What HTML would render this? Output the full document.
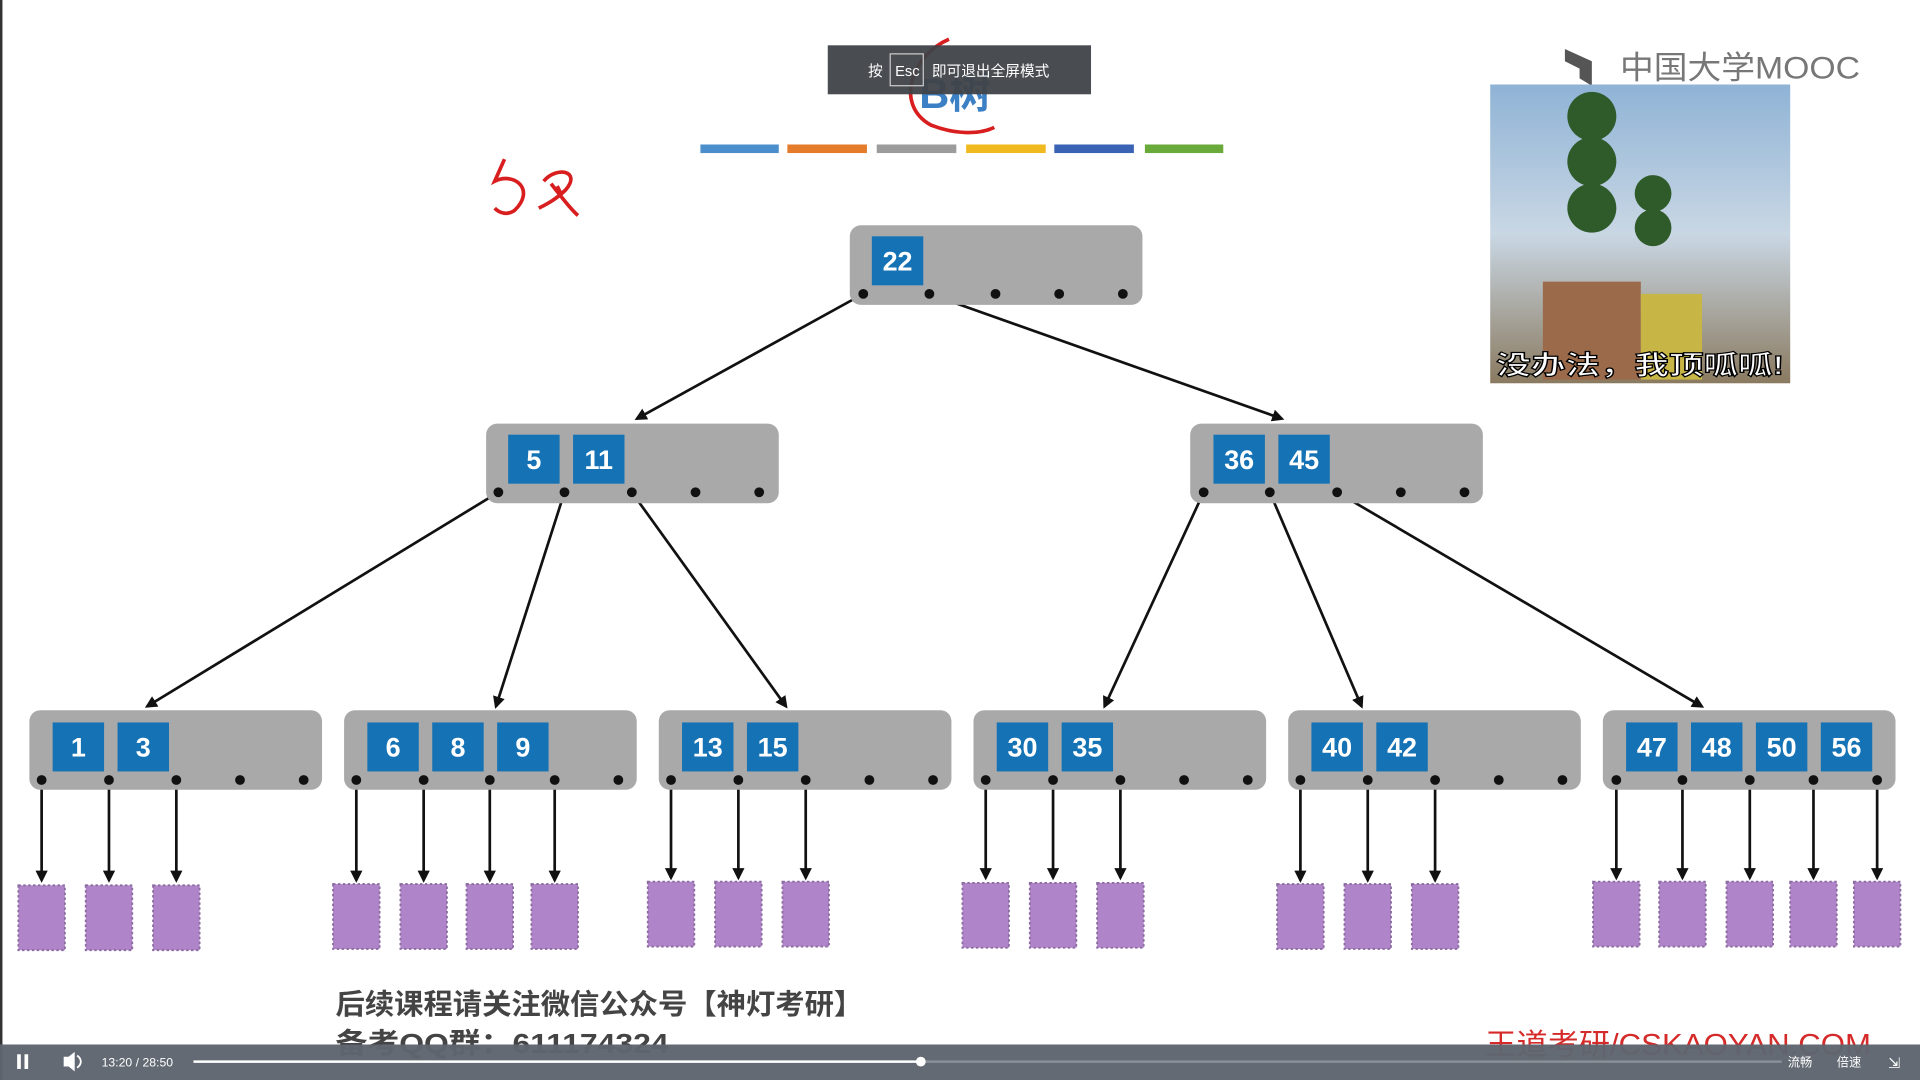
<!DOCTYPE html>
<html><head><meta charset="utf-8"><style>
html,body{margin:0;padding:0;background:#fff;width:1920px;height:1080px;overflow:hidden}
svg{display:block}
text{font-family:"Liberation Sans","Noto Sans CJK SC",sans-serif}
</style></head><body>
<svg width="1920" height="1080" viewBox="0 0 1568 882" xmlns="http://www.w3.org/2000/svg">
<defs>
<marker id="ah" markerWidth="10" markerHeight="10" refX="8" refY="5" orient="auto" markerUnits="userSpaceOnUse">
<path d="M0,0 L10,5 L0,10 z" fill="#111"/></marker>
<linearGradient id="sky" x1="0" y1="0" x2="0" y2="1">
<stop offset="0" stop-color="#8fb3d6"/><stop offset="0.5" stop-color="#c9d7e4"/><stop offset="1" stop-color="#8a7a60"/></linearGradient>
</defs>
<rect x="0" y="0" width="2" height="882" fill="#333"/>
<text x="780" y="88" font-size="34" fill="#3b7fc4" text-anchor="middle" font-weight="bold">B树</text>
<path d="M775,32 C745,45 730,85 760,102 C780,110 800,110 812,104" stroke="#d81e1e" stroke-width="3" fill="none"/>
<rect x="676" y="37" width="215" height="40" fill="#3f4348" opacity="0.95"/>
<text x="709" y="62" font-size="12" fill="#fff">按</text>
<rect x="727" y="44" width="27" height="26" fill="none" stroke="#ccc" stroke-width="1"/>
<text x="731" y="62" font-size="12" fill="#fff">Esc</text>
<text x="761" y="62" font-size="12" fill="#fff">即可退出全屏模式</text>
<rect x="572" y="118" width="64" height="7" fill="#4a8fcb"/>
<rect x="643" y="118" width="65" height="7" fill="#e47c2c"/>
<rect x="716" y="118" width="65" height="7" fill="#9c9c9c"/>
<rect x="789" y="118" width="65" height="7" fill="#f0b91f"/>
<rect x="861" y="118" width="65" height="7" fill="#3a63b5"/>
<rect x="935" y="118" width="64" height="7" fill="#6aaa3a"/>
<path d="M412,130 L404,148 C420,140 438,155 420,172 C414,176 408,174 404,170" stroke="#d81e1e" stroke-width="3" fill="none"/>
<path d="M444,148 C455,135 475,140 462,155 C455,162 448,166 440,170 M450,150 C458,160 465,170 472,176 M455,152 L458,158" stroke="#d81e1e" stroke-width="3" fill="none"/>
<path d="M1278,40 L1300,50 L1300,70 L1290,64 L1290,56 L1278,50 z" fill="#555"/>
<text x="1323" y="64" font-size="26" fill="#777" textLength="196" lengthAdjust="spacingAndGlyphs">中国大学MOOC</text>
<rect x="1217" y="69" width="245" height="244" fill="url(#sky)"/>
<ellipse cx="1300" cy="95" rx="20" ry="20" fill="#2f5b2a"/>
<ellipse cx="1300" cy="132" rx="20" ry="20" fill="#2f5b2a"/>
<ellipse cx="1300" cy="170" rx="20" ry="20" fill="#2f5b2a"/>
<ellipse cx="1350" cy="158" rx="15" ry="15" fill="#2f5b2a"/>
<ellipse cx="1350" cy="186" rx="15" ry="15" fill="#2f5b2a"/>
<rect x="1260" y="230" width="80" height="80" fill="#9b6a4a"/>
<rect x="1340" y="240" width="50" height="70" fill="#c7b545"/>
<text x="1222" y="306" font-size="22" font-weight="bold" fill="#fff" stroke="#000" stroke-width="1" textLength="235" lengthAdjust="spacingAndGlyphs">没办法，我顶呱呱!</text>
<g stroke="#111" stroke-width="2.2" marker-end="url(#ah)">
<line x1="705" y1="240" x2="520" y2="342"/>
<line x1="759" y1="240" x2="1047" y2="342"/>
<line x1="407" y1="402" x2="120" y2="577"/>
<line x1="461" y1="402" x2="405" y2="577"/>
<line x1="516" y1="402" x2="642" y2="577"/>
<line x1="983" y1="402" x2="902" y2="577"/>
<line x1="1037" y1="402" x2="1112" y2="577"/>
<line x1="1092" y1="402" x2="1390" y2="577"/>
<line x1="34" y1="637" x2="34" y2="719"/><line x1="89" y1="637" x2="89" y2="719"/><line x1="144" y1="637" x2="144" y2="719"/>
<line x1="291" y1="637" x2="291" y2="719"/><line x1="346" y1="637" x2="346" y2="719"/><line x1="400" y1="637" x2="400" y2="719"/><line x1="453" y1="637" x2="453" y2="719"/>
<line x1="548" y1="637" x2="548" y2="717"/><line x1="603" y1="637" x2="603" y2="717"/><line x1="658" y1="637" x2="658" y2="717"/>
<line x1="805" y1="637" x2="805" y2="717"/><line x1="860" y1="637" x2="860" y2="717"/><line x1="915" y1="637" x2="915" y2="717"/>
<line x1="1062" y1="637" x2="1062" y2="719"/><line x1="1117" y1="637" x2="1117" y2="719"/><line x1="1172" y1="637" x2="1172" y2="719"/>
<line x1="1320" y1="637" x2="1320" y2="717"/><line x1="1374" y1="637" x2="1374" y2="717"/><line x1="1429" y1="637" x2="1429" y2="717"/><line x1="1481" y1="637" x2="1481" y2="717"/><line x1="1533" y1="637" x2="1533" y2="717"/>
</g>
<g fill="#b084c9" stroke="#8a6aa0" stroke-width="1.5" stroke-dasharray="2,2">
<rect x="15" y="723" width="38" height="53"/><rect x="70" y="723" width="38" height="53"/><rect x="125" y="723" width="38" height="53"/>
<rect x="272" y="722" width="38" height="53"/><rect x="327" y="722" width="38" height="53"/><rect x="381" y="722" width="38" height="53"/><rect x="434" y="722" width="38" height="53"/>
<rect x="529" y="720" width="38" height="53"/><rect x="584" y="720" width="38" height="53"/><rect x="639" y="720" width="38" height="53"/>
<rect x="786" y="721" width="38" height="53"/><rect x="841" y="721" width="38" height="53"/><rect x="896" y="721" width="38" height="53"/>
<rect x="1043" y="722" width="38" height="53"/><rect x="1098" y="722" width="38" height="53"/><rect x="1153" y="722" width="38" height="53"/>
<rect x="1301" y="720" width="38" height="53"/><rect x="1355" y="720" width="38" height="53"/><rect x="1410" y="720" width="38" height="53"/><rect x="1462" y="720" width="38" height="53"/><rect x="1514" y="720" width="38" height="53"/>
</g>
<g fill="#a9a9a9">
<rect x="694" y="184" width="239" height="65" rx="9"/>
<rect x="397" y="346" width="239" height="65" rx="9"/>
<rect x="972" y="346" width="239" height="65" rx="9"/>
<rect x="24" y="580" width="239" height="65" rx="9"/>
<rect x="281" y="580" width="239" height="65" rx="9"/>
<rect x="538" y="580" width="239" height="65" rx="9"/>
<rect x="795" y="580" width="239" height="65" rx="9"/>
<rect x="1052" y="580" width="239" height="65" rx="9"/>
<rect x="1309" y="580" width="239" height="65" rx="9"/>
</g>
<g fill="#1472b5">
<rect x="712" y="193" width="42" height="40"/>
<rect x="415" y="355" width="42" height="40"/><rect x="468" y="355" width="42" height="40"/>
<rect x="991" y="355" width="42" height="40"/><rect x="1044" y="355" width="42" height="40"/>
<rect x="43" y="590" width="42" height="40"/><rect x="96" y="590" width="42" height="40"/>
<rect x="300" y="590" width="42" height="40"/><rect x="353" y="590" width="42" height="40"/><rect x="406" y="590" width="42" height="40"/>
<rect x="557" y="590" width="42" height="40"/><rect x="610" y="590" width="42" height="40"/>
<rect x="814" y="590" width="42" height="40"/><rect x="867" y="590" width="42" height="40"/>
<rect x="1071" y="590" width="42" height="40"/><rect x="1124" y="590" width="42" height="40"/>
<rect x="1328" y="590" width="42" height="40"/><rect x="1381" y="590" width="42" height="40"/><rect x="1434" y="590" width="42" height="40"/><rect x="1487" y="590" width="42" height="40"/>
</g>
<g fill="#fff" font-size="22" font-weight="bold" text-anchor="middle">
<text x="733" y="221">22</text>
<text x="436" y="383">5</text><text x="489" y="383">11</text>
<text x="1012" y="383">36</text><text x="1065" y="383">45</text>
<text x="64" y="618">1</text><text x="117" y="618">3</text>
<text x="321" y="618">6</text><text x="374" y="618">8</text><text x="427" y="618">9</text>
<text x="578" y="618">13</text><text x="631" y="618">15</text>
<text x="835" y="618">30</text><text x="888" y="618">35</text>
<text x="1092" y="618">40</text><text x="1145" y="618">42</text>
<text x="1349" y="618">47</text><text x="1402" y="618">48</text><text x="1455" y="618">50</text><text x="1508" y="618">56</text>
</g>
<g fill="#111">
<circle cx="705" cy="240" r="4"/><circle cx="759" cy="240" r="4"/><circle cx="813" cy="240" r="4"/><circle cx="865" cy="240" r="4"/><circle cx="917" cy="240" r="4"/>
<circle cx="407" cy="402" r="4"/><circle cx="461" cy="402" r="4"/><circle cx="516" cy="402" r="4"/><circle cx="568" cy="402" r="4"/><circle cx="620" cy="402" r="4"/>
<circle cx="983" cy="402" r="4"/><circle cx="1037" cy="402" r="4"/><circle cx="1092" cy="402" r="4"/><circle cx="1144" cy="402" r="4"/><circle cx="1196" cy="402" r="4"/>
<circle cx="34" cy="637" r="4"/><circle cx="89" cy="637" r="4"/><circle cx="144" cy="637" r="4"/><circle cx="196" cy="637" r="4"/><circle cx="248" cy="637" r="4"/>
<circle cx="291" cy="637" r="4"/><circle cx="346" cy="637" r="4"/><circle cx="400" cy="637" r="4"/><circle cx="453" cy="637" r="4"/><circle cx="505" cy="637" r="4"/>
<circle cx="548" cy="637" r="4"/><circle cx="603" cy="637" r="4"/><circle cx="658" cy="637" r="4"/><circle cx="710" cy="637" r="4"/><circle cx="762" cy="637" r="4"/>
<circle cx="805" cy="637" r="4"/><circle cx="860" cy="637" r="4"/><circle cx="915" cy="637" r="4"/><circle cx="967" cy="637" r="4"/><circle cx="1019" cy="637" r="4"/>
<circle cx="1062" cy="637" r="4"/><circle cx="1117" cy="637" r="4"/><circle cx="1172" cy="637" r="4"/><circle cx="1224" cy="637" r="4"/><circle cx="1276" cy="637" r="4"/>
<circle cx="1320" cy="637" r="4"/><circle cx="1374" cy="637" r="4"/><circle cx="1429" cy="637" r="4"/><circle cx="1481" cy="637" r="4"/><circle cx="1533" cy="637" r="4"/>
</g>
<text x="274" y="828" font-size="23" font-weight="bold" fill="#444" textLength="431" lengthAdjust="spacingAndGlyphs">后续课程请关注微信公众号【神灯考研】</text>
<text x="274" y="860" font-size="23" font-weight="bold" fill="#444" textLength="272" lengthAdjust="spacingAndGlyphs">备考QQ群：611174324</text>
<text x="1213" y="861" font-size="24" fill="#d52a2a" textLength="315" lengthAdjust="spacingAndGlyphs">王道考研/CSKAOYAN.COM</text>
<rect x="0" y="853" width="1568" height="29" fill="#5e656e" opacity="0.97"/>
<rect x="14" y="861" width="3" height="12" fill="#fff"/><rect x="20" y="861" width="3" height="12" fill="#fff"/>
<path d="M52,863 L56,863 L61,859 L61,875 L56,871 L52,871 z" fill="#fff"/>
<path d="M63,862 C67,865 67,869 63,872" stroke="#fff" stroke-width="1.5" fill="none"/>
<text x="83" y="871" font-size="10" fill="#fff">13:20 / 28:50</text>
<rect x="158" y="866" width="1297" height="2" fill="#8a9098"/>
<rect x="158" y="866" width="594" height="2" fill="#fff"/>
<circle cx="752" cy="867" r="4" fill="#fff"/>
<text x="1460" y="871" font-size="10" fill="#fff">流畅</text>
<text x="1500" y="871" font-size="10" fill="#fff">倍速</text>
<text x="1542" y="872" font-size="12" fill="#fff">⇲</text>
</svg>
</body></html>
